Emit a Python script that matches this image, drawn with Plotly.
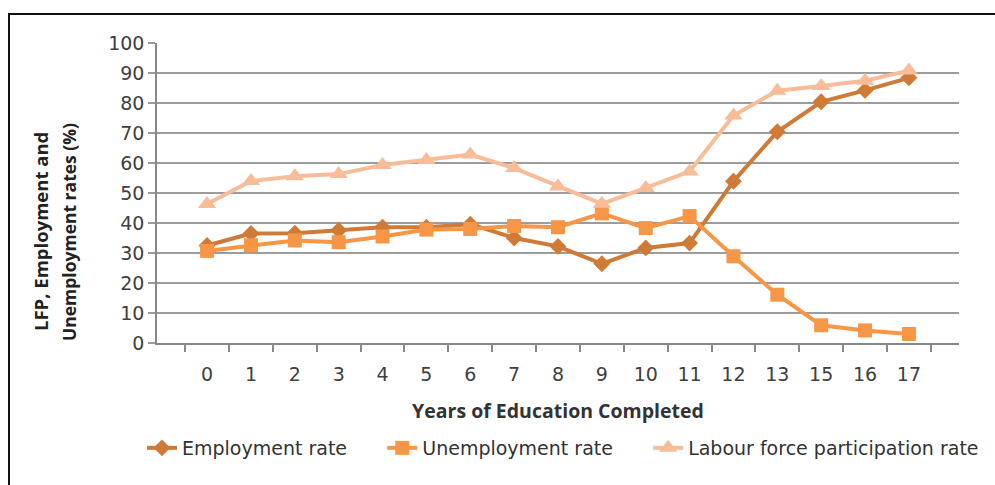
import plotly.graph_objects as go

years = ["0", "1", "2", "3", "4", "5", "6", "7", "8", "9", "10", "11", "12", "13", "15", "16", "17"]
employment = [32.5, 36.5, 36.6, 37.6, 38.6, 38.6, 39.6, 35.0, 32.2, 26.4, 31.7, 33.3, 53.9, 70.4, 80.4, 84.2, 88.4]
unemployment = [30.7, 32.6, 34.2, 33.6, 35.5, 37.8, 38.0, 39.0, 38.6, 43.2, 38.3, 42.3, 28.9, 16.1, 5.9, 4.2, 3.0]
lfp = [46.3, 54.0, 55.6, 56.3, 59.3, 61.0, 62.8, 58.3, 52.2, 46.4, 51.7, 57.2, 75.8, 84.1, 85.7, 87.4, 90.8]

FONT = "DejaVu Sans"
BOLD = "Open Sans"
PAD = "\u00a0" * 5

fig = go.Figure()
fig.add_trace(go.Scatter(
    x=years, y=employment, name="Employment rate" + PAD, mode="lines+markers",
    line=dict(color="#CF7A36", width=4),
    marker=dict(symbol="diamond", size=13, color="#CF7A36"),
))
fig.add_trace(go.Scatter(
    x=years, y=unemployment, name="Unemployment rate" + PAD, mode="lines+markers",
    line=dict(color="#F79646", width=4),
    marker=dict(symbol="square", size=14, color="#F79646"),
))
fig.add_trace(go.Scatter(
    x=years, y=lfp, name="Labour force participation rate", mode="lines+markers",
    line=dict(color="#F8BC98", width=4),
    marker=dict(symbol="triangle-up", size=16, color="#F8BC98"),
))

fig.update_layout(
    width=995, height=485,
    margin=dict(l=157, r=36, t=43, b=142, autoexpand=False),
    paper_bgcolor="white", plot_bgcolor="white",
    font=dict(family=FONT, size=19, color="#404040"),
    showlegend=True,
    legend=dict(orientation="h", x=(142 - 157) / 802, xanchor="left",
                y=(343 - 448) / 300, yanchor="middle",
                font=dict(family=FONT, size=19, color="#333333"),
                tracegroupgap=0),
    xaxis=dict(
        type="category", tickson="boundaries", ticks="outside", ticklen=7,
        tickcolor="#888888", tickwidth=1.5,
        showline=True, linecolor="#888888", linewidth=1.5,
        showgrid=False, ticklabelstandoff=13,
        tickfont=dict(family=FONT, size=19, color="#404040"),
        title=dict(text="<b>Years of Education Completed</b>", standoff=21,
                   font=dict(family=BOLD, size=19.5, color="#333333")),
    ),
    yaxis=dict(
        range=[0, 100], dtick=10, tick0=0,
        showgrid=True, gridcolor="#9C9C9C", gridwidth=1.5,
        ticks="outside", ticklen=7, tickcolor="#9C9C9C", tickwidth=1.5,
        showline=True, linecolor="#888888", linewidth=1.5,
        zeroline=False,
        tickfont=dict(family=FONT, size=19, color="#404040"),
        title=dict(text=""),
    ),
)

fig.add_annotation(
    xref="paper", yref="paper", x=(40 - 157) / 802, y=(343 - 232) / 300,
    text="<b>LFP, Employment and</b>",
    textangle=-90, showarrow=False, xanchor="center", yanchor="middle",
    font=dict(family=BOLD, size=18.5, color="#222222"),
)
fig.add_annotation(
    xref="paper", yref="paper", x=(69 - 157) / 802, y=(343 - 232) / 300,
    text="<b>Unemployment rates (%)</b>",
    textangle=-90, showarrow=False, xanchor="center", yanchor="middle",
    font=dict(family=BOLD, size=17.5, color="#222222"),
)

fig.add_shape(
    type="rect", xref="paper", yref="paper",
    x0=(9 - 157) / 802, x1=(1010 - 157) / 802,
    y0=(343 - 500) / 300, y1=(343 - 14) / 300,
    line=dict(color="#111111", width=2), fillcolor="rgba(0,0,0,0)", layer="above",
)

fig.write_html("out.html")
